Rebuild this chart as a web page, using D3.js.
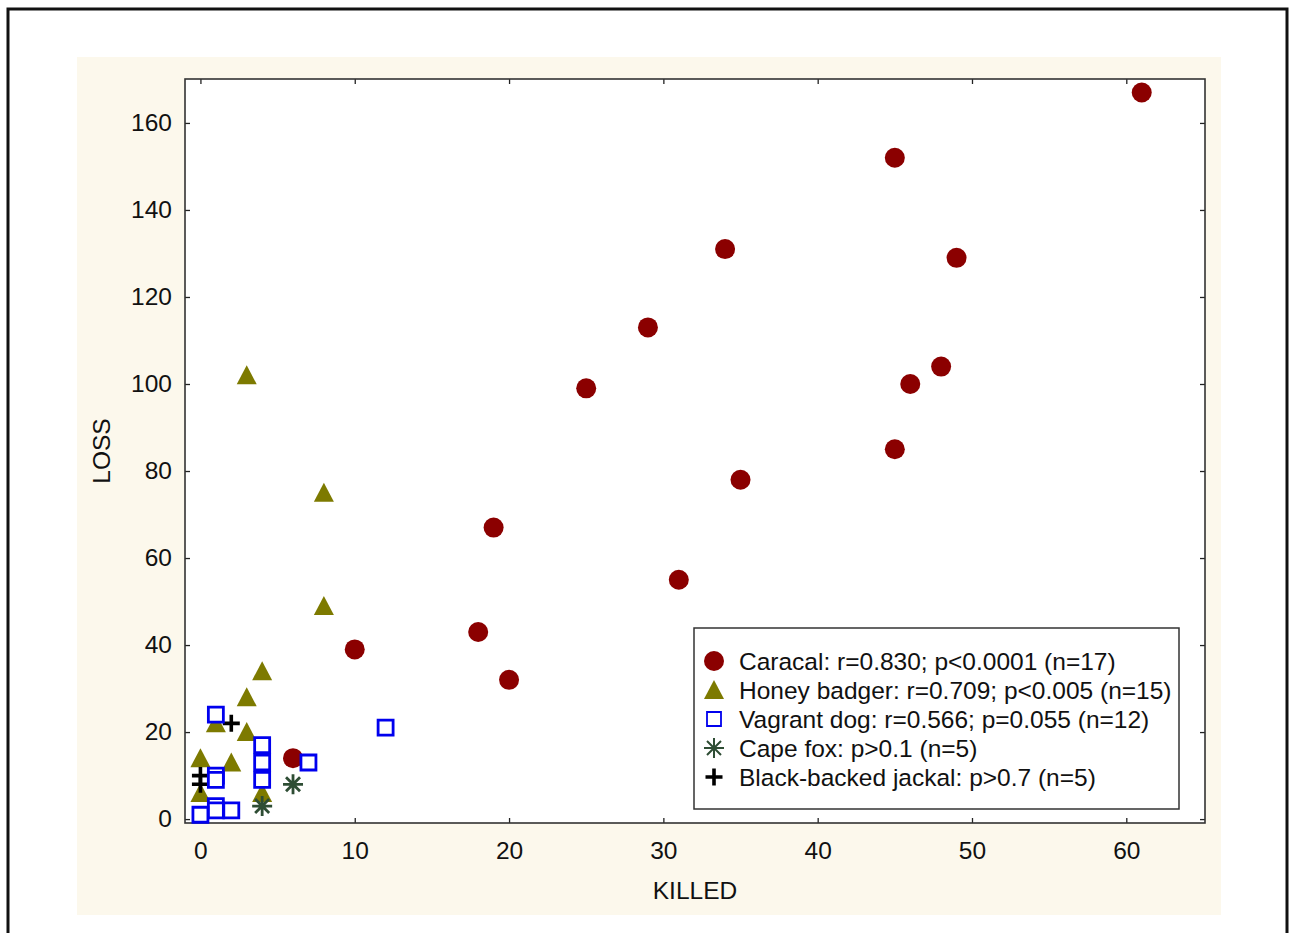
<!DOCTYPE html>
<html>
    <head>
        <meta charset="UTF-8">
        <script src="https://d3js.org/d3.v7.min.js"></script>
        <style>
            body { margin: 0; background: #fff; }
            text { font-family: "Liberation Sans", Arial, sans-serif; fill: #111; }
        </style>
    </head>

    <body>

        <svg id="canvas"></svg>

        <script>

            // values (KILLED, LOSS)
            caracalKilled = [61, 45, 34, 49, 29, 25, 46, 48, 45, 35, 19, 31, 18, 10, 20, 6];
            caracalLoss   = [167, 152, 131, 129, 113, 99, 100, 104, 85, 78, 67, 55, 43, 39, 32, 14];

            badgerKilled = [3, 8, 8, 4, 3, 1, 3, 2, 0, 0, 4];
            badgerLoss   = [102, 75, 49, 34, 28, 22, 20, 13, 14, 6, 6];

            dogKilled = [1, 12, 4, 4, 4, 7, 1, 1, 1, 1, 2, 0];
            dogLoss   = [24, 21, 17, 13, 9, 13, 10, 9, 3, 2, 2, 1];

            foxKilled = [4, 6];
            foxLoss   = [3, 8];

            jackalKilled = [2, 0, 0, 2];
            jackalLoss   = [22, 10, 8, 2];

            legendLabels = [
                "Caracal: r=0.830; p<0.0001 (n=17)",
                "Honey badger: r=0.709; p<0.005 (n=15)",
                "Vagrant dog: r=0.566; p=0.055 (n=12)",
                "Cape fox: p>0.1 (n=5)",
                "Black-backed jackal: p>0.7 (n=5)"
            ];

            xTicks = [0, 10, 20, 30, 40, 50, 60];
            yTicks = [0, 20, 40, 60, 80, 100, 120, 140, 160];

            width = 1290;
            height = 933;
            fontSize = 24.5;
            plot = {left: 185, top: 79, right: 1205, bottom: 823};

            canvas = d3.select("#canvas")
                .attr("width", width)
                .attr("height", height);

            // outer frame and cream panel
            canvas.append("rect")
                .attr("x", 8).attr("y", 9)
                .attr("width", 1279).attr("height", 940)
                .attr("style", "fill:#fff; stroke:#111; stroke-width:3;");

            canvas.append("rect")
                .attr("x", 77).attr("y", 57)
                .attr("width", 1144).attr("height", 858)
                .attr("style", "fill:#fcf8ec;");

            canvas.append("rect")
                .attr("x", plot.left).attr("y", plot.top)
                .attr("width", plot.right - plot.left).attr("height", plot.bottom - plot.top)
                .attr("style", "fill:#fff;");

            x = d3.scaleLinear().domain([-1, 65.1]).range([plot.left, plot.right]);
            y = d3.scaleLinear().domain([-0.9, 170.1]).range([plot.bottom, plot.top]);

            function styleAxis(g, labels) {
                g.select(".domain").remove();
                g.selectAll(".tick line").attr("stroke", "#222").attr("stroke-width", 1.3);
                g.selectAll(".tick text").attr("font-size", fontSize).attr("fill", "#111")
                    .attr("font-family", "'Liberation Sans', Arial, sans-serif");
                if (!labels) g.selectAll(".tick text").remove();
            }

            canvas.append("g")
                .attr("transform", "translate(0," + plot.bottom + ")")
                .call(d3.axisBottom(x).tickValues(xTicks).tickSize(-5).tickPadding(19))
                .call(styleAxis, true);

            canvas.append("g")
                .attr("transform", "translate(0," + plot.top + ")")
                .call(d3.axisTop(x).tickValues(xTicks).tickSize(-5))
                .call(styleAxis, false);

            canvas.append("g")
                .attr("transform", "translate(" + plot.left + ",0)")
                .call(d3.axisLeft(y).tickValues(yTicks).tickSize(-5).tickPadding(13))
                .call(styleAxis, true);

            canvas.append("g")
                .attr("transform", "translate(" + plot.right + ",0)")
                .call(d3.axisRight(y).tickValues(yTicks).tickSize(-5))
                .call(styleAxis, false);

            canvas.append("rect")
                .attr("x", plot.left).attr("y", plot.top)
                .attr("width", plot.right - plot.left).attr("height", plot.bottom - plot.top)
                .attr("style", "fill:none; stroke:#333; stroke-width:1.6;");

            canvas.append("text")
                .attr("x", (plot.left + plot.right) / 2)
                .attr("y", 899)
                .attr("text-anchor", "middle")
                .attr("font-size", fontSize)
                .text("KILLED");

            canvas.append("text")
                .attr("transform", "translate(110,451) rotate(-90)")
                .attr("text-anchor", "middle")
                .attr("font-size", fontSize)
                .text("LOSS");

            // symbol shapes
            triangleType = {draw: (ctx, s) => {
                ctx.moveTo(0, -10); ctx.lineTo(10, 9); ctx.lineTo(-10, 9); ctx.closePath();
            }};
            squareType = {draw: (ctx, s) => { ctx.rect(-7.5, -7.5, 15, 15); }};
            asteriskType = {draw: (ctx, s) => {
                ctx.moveTo(-10, 0); ctx.lineTo(10, 0);
                ctx.moveTo(0, -10); ctx.lineTo(0, 10);
                ctx.moveTo(-7, -7); ctx.lineTo(7, 7);
                ctx.moveTo(-7, 7); ctx.lineTo(7, -7);
            }};
            plusType = {draw: (ctx, s) => {
                ctx.moveTo(-8.5, 0); ctx.lineTo(8.5, 0);
                ctx.moveTo(0, -8.5); ctx.lineTo(0, 8.5);
            }};

            caracal = {k: caracalKilled, l: caracalLoss, type: d3.symbolCircle, size: Math.PI * 100,
                style: "fill:#8b0000; stroke:none;"};
            badger = {k: badgerKilled, l: badgerLoss, type: triangleType, size: 0,
                style: "fill:#7d7a00; stroke:none;"};
            dog = {k: dogKilled, l: dogLoss, type: squareType, size: 0,
                style: "fill:#fff; stroke:#0000ee; stroke-width:2.8;"};
            fox = {k: foxKilled, l: foxLoss, type: asteriskType, size: 0,
                style: "fill:none; stroke:#2e4d34; stroke-width:2.8;"};
            jackal = {k: jackalKilled, l: jackalLoss, type: plusType, size: 0,
                style: "fill:none; stroke:#000; stroke-width:3.6;"};

            // drawing order as in the picture (squares sit on top)
            [caracal, badger, fox, jackal, dog].forEach((s) => {
                canvas.append("g").selectAll("path")
                    .data(d3.zip(s.k, s.l))
                    .enter()
                        .append("path")
                            .attr("d", d3.symbol().type(s.type).size(s.size))
                            .attr("transform", (d) => "translate(" + x(d[0]) + "," + y(d[1]) + ")")
                            .attr("style", s.style);
            });

            // legend
            legend = canvas.append("g").attr("transform", "translate(694,628)");
            legend.append("rect")
                .attr("width", 485).attr("height", 181)
                .attr("style", "fill:#fff; stroke:#333; stroke-width:1.5;");

            legendStyles = [
                caracal.style,
                badger.style,
                "fill:#fff; stroke:#0000ee; stroke-width:1.8;",
                "fill:none; stroke:#2e4d34; stroke-width:2;",
                "fill:none; stroke:#000; stroke-width:3.6;"
            ];
            legendSymbols = [
                d3.symbol().type(d3.symbolCircle).size(Math.PI * 100),
                d3.symbol().type(triangleType),
                d3.symbol().type({draw: (ctx) => ctx.rect(-7, -7, 14, 14)}),
                d3.symbol().type(asteriskType),
                d3.symbol().type(plusType)
            ];

            item = legend.selectAll("g.item")
                .data(legendLabels)
                .enter()
                    .append("g")
                        .attr("class", "item")
                        .attr("transform", (d, i) => "translate(0," + (33 + i * 29) + ")");

            item.append("path")
                .attr("d", (d, i) => legendSymbols[i]())
                .attr("transform", "translate(20,0)")
                .attr("style", (d, i) => legendStyles[i]);

            item.append("text")
                .attr("x", 45)
                .attr("dy", "0.35em")
                .attr("font-size", fontSize)
                .text((d) => d);

        </script>

    </body>

</html>
